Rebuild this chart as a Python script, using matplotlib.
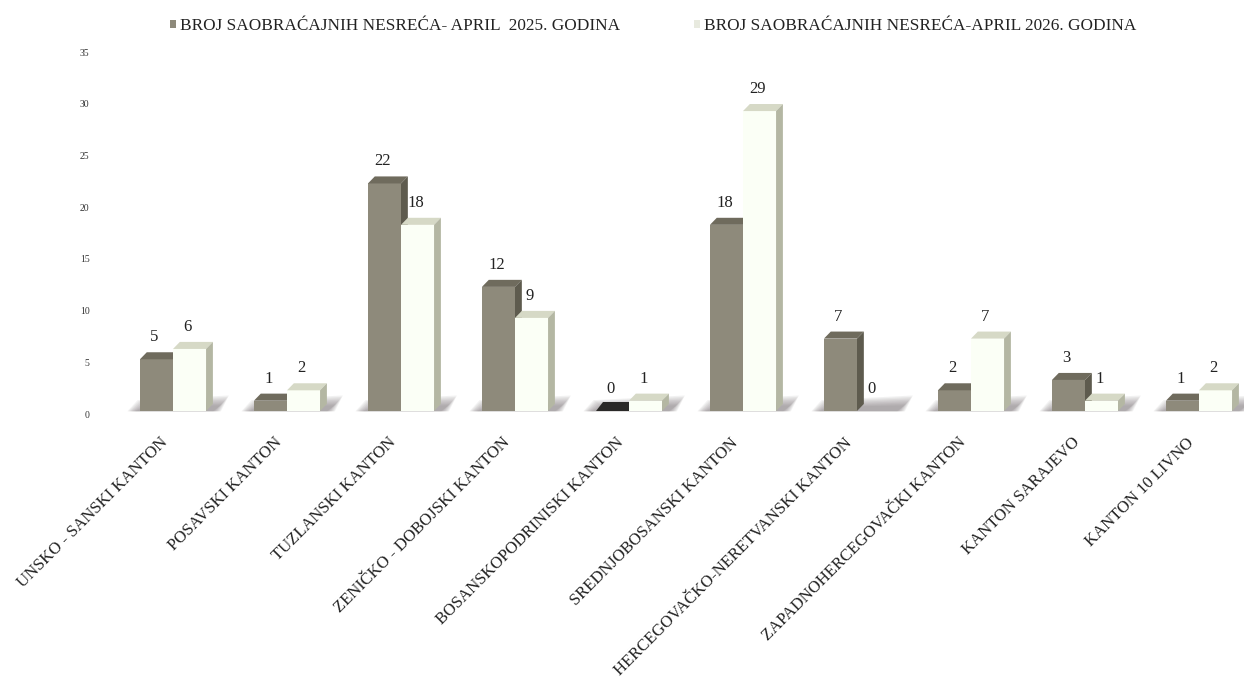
import matplotlib
matplotlib.use("Agg")
import matplotlib.pyplot as plt
from matplotlib.patches import Polygon, Patch
from matplotlib.transforms import ScaledTranslation
import numpy as np

categories = ["UNSKO - SANSKI KANTON", "POSAVSKI KANTON", "TUZLANSKI KANTON",
              "ZENIČKO - DOBOJSKI KANTON", "BOSANSKOPODRINISKI KANTON",
              "SREDNJOBOSANSKI KANTON", "HERCEGOVAČKO-NERETVANSKI KANTON",
              "ZAPADNOHERCEGOVAČKI KANTON", "KANTON SARAJEVO", "KANTON 10 LIVNO"]
values_2025 = [5, 1, 22, 12, 0, 18, 7, 2, 3, 1]
values_2026 = [6, 2, 18, 9, 1, 29, 0, 7, 1, 2]
label_2025 = "BROJ SAOBRAĆAJNIH NESREĆA- APRIL  2025. GODINA"
label_2026 = "BROJ SAOBRAĆAJNIH NESREĆA-APRIL 2026. GODINA"
yticks = [0, 5, 10, 15, 20, 25, 30, 35]

W, H = 1244, 677
fig = plt.figure(figsize=(W / 100, H / 100), dpi=100, facecolor="white")
left_px, right_px, top_px, bot_px = 116, 1244, 49, 411
ax = fig.add_axes([left_px / W, 1 - bot_px / H, (right_px - left_px) / W, (bot_px - top_px) / H])
ax.set_xlim(-0.5, (right_px - 173) / 114)
ax.set_ylim(0, 35)
for s in ax.spines.values():
    s.set_visible(False)

BAR_W = 0.29
DX, DY = 0.06, 0.68
x = np.arange(len(categories))

styles_dark = dict(front="#8e8a7b", top="#6f6b5d", side="#5e5b4e", zero="#2a2927")
styles_light = dict(front="#fbfff6", top="#d6d9c6", side="#b4b7a3", zero=None)

# soft shadows on the floor
for xi in x:
    n = 8
    for k in range(n):
        g = (n - 1 - k) / (n - 1)
        L = xi - BAR_W - 0.04 - 0.07 * g
        R = xi + BAR_W + 0.13 + 0.07 * g
        h = 0.55 + 0.95 * g
        ax.add_patch(Polygon([(L, -0.03), (R - 0.07, -0.03), (R, h), (L + 0.09, h * 0.7)],
                             closed=True, fc="#6e696b", ec="none", alpha=0.09, zorder=1, clip_on=False))


def bars(xs, vals, st, zorder):
    ax.bar(xs, vals, width=BAR_W, align="edge", color=st["front"], edgecolor="none", zorder=zorder)
    for xl, v in zip(xs, vals):
        xr = xl + BAR_W
        if v == 0:
            if st["zero"]:
                ax.add_patch(Polygon([(xl, 0), (xr, 0), (xr, DY * 1.3), (xl + DX, DY * 1.3)], fc=st["zero"], ec="none", zorder=zorder))
            continue
        ax.add_patch(Polygon([(xl, v), (xr, v), (xr + DX, v + DY), (xl + DX, v + DY)], fc=st["top"], ec="none", zorder=zorder))
        ax.add_patch(Polygon([(xr, 0), (xr, v), (xr + DX, v + DY), (xr + DX, DY)], fc=st["side"], ec="none", zorder=zorder))


bars(x - BAR_W, values_2025, styles_dark, 2)
bars(x, values_2026, styles_light, 3)

vfont = dict(family="Liberation Serif", fontsize=12, color="#222222", ha="center", va="bottom", zorder=5)
for xi, a, b in zip(x, values_2025, values_2026):
    ax.annotate(str(a), (xi - BAR_W / 2, a + DY), xytext=(-2, 7), textcoords="offset pixels", **vfont)
    ax.annotate(str(b), (xi + BAR_W / 2, b + DY), xytext=(-2, 7), textcoords="offset pixels", **vfont)

ax.set_yticks(yticks)
ax.set_yticklabels([str(t) for t in yticks], family="Liberation Serif", fontsize=7, color="#333333")
ax.tick_params(axis="y", length=0, pad=19)
for t in ax.get_yticklabels():
    t.set_transform(t.get_transform() + ScaledTranslation(0, -3 / 100, fig.dpi_scale_trans))
ax.set_xticks(x)
ax.set_xticklabels(categories, rotation=45, ha="right", va="top", rotation_mode="anchor",
                   family="Liberation Serif", fontsize=12, color="#222222")
ax.tick_params(axis="x", length=0, pad=17)
for t in ax.get_xticklabels():
    t.set_transform(t.get_transform() + ScaledTranslation(-13 / 100, 0, fig.dpi_scale_trans))

ax.legend(handles=[Patch(fc=styles_dark["front"], ec="none", label=label_2025),
                   Patch(fc="#e8eadf", ec="none", label=label_2026)],
          loc="center", bbox_to_anchor=(653 / W, 1 - 26 / H), bbox_transform=fig.transFigure, ncols=2,
          frameon=False, handlelength=0.38, handleheight=0.38, handletextpad=0.2, columnspacing=4.3,
          prop=dict(family="Liberation Serif", size=12.4), labelcolor="#222222")

fig.savefig("out.png", dpi=100)
